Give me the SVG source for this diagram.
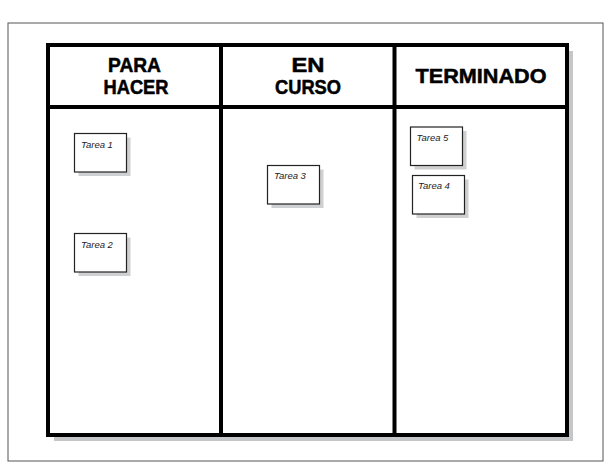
<svg xmlns="http://www.w3.org/2000/svg" width="612" height="472" viewBox="0 0 612 472">
<style>
.frame{fill:#fff;stroke:#555;stroke-width:1}
.shadow{fill:#c4c6c8}
.board{fill:#fff;stroke:#000;stroke-width:4}
.div{stroke:#000;stroke-width:4;fill:none}
.hdr{font-family:"Liberation Sans",Arial,sans-serif;font-weight:bold;font-size:19.5px;fill:#000;text-anchor:middle;stroke:#000;stroke-width:0.5}
.big{font-size:21px}
.card{fill:#fff;stroke:#222;stroke-width:1.2}
.cshadow{fill:#cfd0d2}
.lbl{font-family:"Liberation Sans",Arial,sans-serif;font-style:italic;font-size:9.5px;fill:#222}
</style>
<rect width="612" height="472" fill="#fff"/>
<rect class="frame" x="8" y="23" width="595" height="438"/>
<g id="board">
<rect class="shadow" x="54" y="51" width="519" height="390"/>
<rect class="board" x="48" y="45" width="519" height="390"/>
</g>
<g id="connectors">
<line class="div" x1="48" y1="107" x2="567" y2="107"/>
<line class="div" x1="221" y1="45" x2="221" y2="435"/>
<line class="div" x1="394.5" y1="45" x2="394.5" y2="435"/>
</g>
<g id="col-para-hacer">
<text class="hdr" x="134.5" y="72" textLength="53" lengthAdjust="spacingAndGlyphs">PARA</text>
<text class="hdr" x="136" y="94" textLength="65" lengthAdjust="spacingAndGlyphs">HACER</text>
</g>
<g id="col-en-curso">
<text class="hdr" x="308" y="72" textLength="33" lengthAdjust="spacingAndGlyphs">EN</text>
<text class="hdr" x="308" y="94" textLength="66" lengthAdjust="spacingAndGlyphs">CURSO</text>
</g>
<g id="col-terminado">
<text class="hdr big" x="481" y="83" textLength="131" lengthAdjust="spacingAndGlyphs">TERMINADO</text>
</g>
<g id="tarea1">
<rect class="cshadow" x="78.5" y="137.5" width="52" height="38.5"/>
<rect class="card" x="74.5" y="133.5" width="52" height="38.5"/>
<text class="lbl" x="81" y="147.5">Tarea 1</text>
</g>
<g id="tarea2">
<rect class="cshadow" x="78.5" y="237.5" width="52" height="38.5"/>
<rect class="card" x="74.5" y="233.5" width="52" height="38.5"/>
<text class="lbl" x="81" y="247.5">Tarea 2</text>
</g>
<g id="tarea3">
<rect class="cshadow" x="271.5" y="169.5" width="52" height="38.5"/>
<rect class="card" x="267.5" y="165.5" width="52" height="38.5"/>
<text class="lbl" x="274" y="179">Tarea 3</text>
</g>
<g id="tarea5">
<rect class="cshadow" x="414.5" y="131" width="52" height="38.5"/>
<rect class="card" x="410.5" y="127" width="52" height="38.5"/>
<text class="lbl" x="416.5" y="140.5">Tarea 5</text>
</g>
<g id="tarea4">
<rect class="cshadow" x="416.5" y="179.5" width="52" height="38.5"/>
<rect class="card" x="412.5" y="175.5" width="52" height="38.5"/>
<text class="lbl" x="418" y="189">Tarea 4</text>
</g>
</svg>
